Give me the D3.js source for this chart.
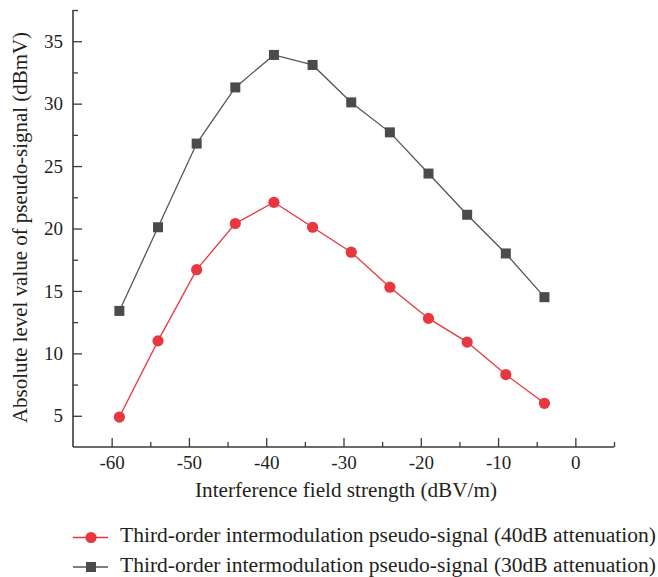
<!DOCTYPE html>
<html>
<head>
<meta charset="utf-8">
<script src="https://cdn.jsdelivr.net/npm/d3@7/dist/d3.min.js"></script>
<style>
  html, body { margin: 0; padding: 0; background: #fff; }
  svg { display: block; }
  text { font-family: "Liberation Serif", "Times New Roman", serif; fill: #231f20; }
</style>
</head>
<body>
<svg id="chart" width="658" height="577"></svg>
<script>
const xValues = [-59, -54, -49, -44, -39, -34, -29, -24, -19, -14, -9, -4];
const series40dB = [4.9, 11.0, 16.7, 20.4, 22.1, 20.1, 18.1, 15.3, 12.8, 10.9, 8.3, 6.0];
const series30dB = [13.4, 20.1, 26.8, 31.3, 33.9, 33.1, 30.1, 27.7, 24.4, 21.1, 18.0, 14.5];
const seriesNames = [
  "Third-order intermodulation pseudo-signal (40dB attenuation)",
  "Third-order intermodulation pseudo-signal (30dB attenuation)"
];
const xTicks = [-60, -50, -40, -30, -20, -10, 0];
const yTicks = [5, 10, 15, 20, 25, 30, 35];
const xTitle = "Interference field strength (dBV/m)";
const yTitle = "Absolute level value of pseudo-signal (dBmV)";

(function () {
const svg = d3.select("#chart");
const pLeft = 73, pRight = 614, pTop = 10, pBottom = 447;
const x = d3.scaleLinear().domain([-65, 5]).range([pLeft, pRight]);
const y = d3.scaleLinear().domain([2.5, 37.5]).range([pBottom, pTop]);
const axisColor = "#3a3a3a";
const fmt = d => String(d);

// Axes
const xAxis = svg.append("g").attr("transform", `translate(0,${pBottom})`)
  .call(d3.axisBottom(x).tickValues(xTicks).tickSize(-9).tickPadding(9).tickFormat(fmt));
const xMinor = svg.append("g").attr("transform", `translate(0,${pBottom})`)
  .call(d3.axisBottom(x).tickValues(d3.range(-55, 6, 10)).tickSize(-5).tickFormat(""));
const yAxis = svg.append("g").attr("transform", `translate(${pLeft},0)`)
  .call(d3.axisLeft(y).tickValues(yTicks).tickSize(-9).tickPadding(10).tickFormat(fmt));
const yMinor = svg.append("g").attr("transform", `translate(${pLeft},0)`)
  .call(d3.axisLeft(y).tickValues(d3.range(7.5, 38, 5)).tickSize(-5).tickFormat(""));

[xAxis, xMinor, yAxis, yMinor].forEach(g => {
  g.select(".domain").attr("stroke", axisColor).attr("stroke-width", 1.6);
  g.selectAll(".tick line").attr("stroke", axisColor).attr("stroke-width", 1.3);
  g.selectAll(".tick text").attr("font-size", 19).attr("fill", "#231f20")
    .attr("font-family", "Liberation Serif, serif");
});
[xMinor, yMinor].forEach(g => g.select(".domain").remove());
xAxis.select(".domain").attr("d", `M${pLeft},0H${pRight}`);
yAxis.select(".domain").attr("d", `M0,${pTop}V${pBottom}`);

// Axis titles
svg.append("text").attr("x", 195).attr("y", 497)
  .attr("font-size", 20).attr("textLength", 302).attr("lengthAdjust", "spacingAndGlyphs")
  .text(xTitle);
svg.append("text").attr("transform", `translate(27,423) rotate(-90)`)
  .attr("font-size", 20).attr("textLength", 391).attr("lengthAdjust", "spacingAndGlyphs")
  .text(yTitle);

// Series
const seriesDefs = [
  { values: series30dB, color: "#4b4b4b", lineColor: "#555555", shape: "square" },
  { values: series40dB, color: "#e8373e", lineColor: "#e8373e", shape: "circle" }
];
const line = d3.line().x(d => x(d[0])).y(d => y(d[1]));

seriesDefs.forEach(s => {
  const pts = xValues.map((xv, i) => [xv, s.values[i]]);
  svg.append("path").datum(pts).attr("d", line)
    .attr("fill", "none").attr("stroke", s.lineColor).attr("stroke-width", 1.3);
  if (s.shape === "circle") {
    svg.append("g").selectAll("circle").data(pts).join("circle")
      .attr("cx", d => x(d[0])).attr("cy", d => y(d[1])).attr("r", 5.6)
      .attr("fill", s.color);
  } else {
    svg.append("g").selectAll("rect").data(pts).join("rect")
      .attr("x", d => x(d[0]) - 5).attr("y", d => y(d[1]) - 5)
      .attr("width", 10).attr("height", 10).attr("fill", s.color);
  }
});

// Legend
const legendRows = [
  { name: seriesNames[0], color: "#e8373e", lineColor: "#e8373e", shape: "circle", cy: 537.5, base: 542 },
  { name: seriesNames[1], color: "#4b4b4b", lineColor: "#555555", shape: "square", cy: 567, base: 572 }
];
legendRows.forEach(r => {
  const g = svg.append("g");
  g.append("line").attr("x1", 73).attr("x2", 108).attr("y1", r.cy).attr("y2", r.cy)
    .attr("stroke", r.lineColor).attr("stroke-width", 1.3);
  if (r.shape === "circle") {
    g.append("circle").attr("cx", 91).attr("cy", r.cy).attr("r", 5.6).attr("fill", r.color);
  } else {
    g.append("rect").attr("x", 86).attr("y", r.cy - 5).attr("width", 10).attr("height", 10).attr("fill", r.color);
  }
  g.append("text").attr("x", 120).attr("y", r.base).attr("font-size", 20)
    .attr("textLength", 536).attr("lengthAdjust", "spacingAndGlyphs").text(r.name);
});
})();
</script>
</body>
</html>
